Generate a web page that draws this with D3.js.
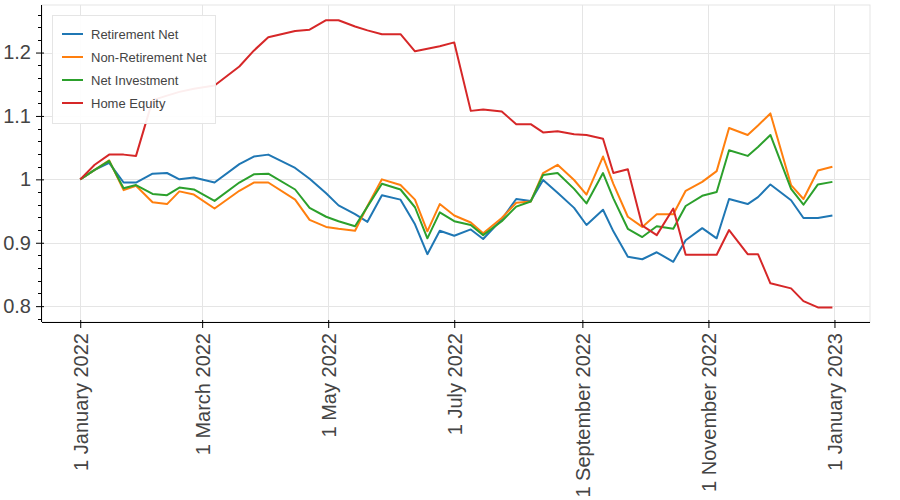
<!DOCTYPE html>
<html>
<head>
<meta charset="utf-8">
<script src="https://cdn.jsdelivr.net/npm/d3@7"></script>
<style>
  html, body { margin: 0; padding: 0; background: #fff; }
  svg { display: block; }
  text { font-family: "Liberation Sans", Arial, Helvetica, sans-serif; }
</style>
</head>
<body>
<svg id="chart" width="900" height="500"></svg>
<script>
const dates = ["2022-01-01","2022-01-08","2022-01-15","2022-01-22","2022-01-28","2022-02-05","2022-02-12","2022-02-18","2022-02-25","2022-03-07","2022-03-19","2022-03-26","2022-04-02","2022-04-15","2022-04-22","2022-04-30","2022-05-06","2022-05-14","2022-05-20","2022-05-27","2022-06-05","2022-06-12","2022-06-18","2022-06-24","2022-07-01","2022-07-09","2022-07-15","2022-07-24","2022-07-31","2022-08-07","2022-08-13","2022-08-20","2022-08-28","2022-09-03","2022-09-11","2022-09-16","2022-09-23","2022-09-30","2022-10-07","2022-10-15","2022-10-21","2022-10-29","2022-11-05","2022-11-11","2022-11-20","2022-11-25","2022-12-01","2022-12-11","2022-12-17","2022-12-24","2022-12-31"];
const retirementNet = [1.000,1.015,1.026,0.995,0.995,1.009,1.010,1.000,1.003,0.995,1.024,1.036,1.039,1.018,1.001,0.978,0.959,0.945,0.933,0.975,0.968,0.929,0.882,0.919,0.911,0.921,0.906,0.937,0.969,0.966,0.999,0.979,0.955,0.928,0.952,0.918,0.878,0.874,0.885,0.870,0.904,0.923,0.907,0.969,0.961,0.972,0.992,0.967,0.939,0.939,0.943];
const nonRetirementNet = [1.000,1.015,1.030,0.983,0.990,0.964,0.961,0.981,0.976,0.954,0.982,0.995,0.995,0.968,0.936,0.925,0.922,0.919,0.958,1.000,0.991,0.968,0.918,0.961,0.943,0.932,0.915,0.939,0.963,0.965,1.010,1.023,0.999,0.976,1.036,0.993,0.941,0.925,0.945,0.945,0.982,0.996,1.013,1.081,1.070,1.085,1.104,0.991,0.969,1.014,1.020];
const netInvestment = [1.000,1.015,1.029,0.986,0.991,0.977,0.975,0.987,0.984,0.966,0.995,1.008,1.009,0.984,0.955,0.941,0.934,0.926,0.957,0.993,0.984,0.956,0.907,0.948,0.934,0.928,0.912,0.934,0.957,0.965,1.007,1.010,0.985,0.962,1.010,0.970,0.922,0.909,0.926,0.922,0.958,0.974,0.980,1.046,1.037,1.051,1.070,0.985,0.960,0.992,0.996];
const homeEquity = [1.000,1.023,1.039,1.039,1.037,1.125,1.132,1.138,1.143,1.148,1.178,1.203,1.224,1.234,1.236,1.251,1.251,1.241,1.235,1.229,1.229,1.202,1.206,1.210,1.216,1.108,1.110,1.107,1.087,1.087,1.074,1.076,1.071,1.070,1.064,1.010,1.016,0.927,0.912,0.954,0.881,0.881,0.881,0.920,0.882,0.882,0.836,0.828,0.808,0.798,0.798];

const seriesNames = ["Retirement Net","Non-Retirement Net","Net Investment","Home Equity"];
const seriesColors = ["#1f77b4","#ff7f0e","#2ca02c","#d62728"];
const seriesValues = [retirementNet, nonRetirementNet, netInvestment, homeEquity];

const xTickDates = ["2022-01-01","2022-03-01","2022-05-01","2022-07-01","2022-09-01","2022-11-01","2023-01-01"];
const xTickLabels = ["1 January 2022","1 March 2022","1 May 2022","1 July 2022","1 September 2022","1 November 2022","1 January 2023"];
const yTicks = [0.8, 0.9, 1.0, 1.1, 1.2];

(function () {
const svg = d3.select("#chart");
const pLeft = 42, pRight = 870, pTop = 5, pBottom = 322;
const DAY = 86400000;
const parse = s => new Date(s + "T00:00:00Z");
const t0 = parse("2022-01-01").getTime();

const x = d3.scaleUtc()
  .domain([new Date(t0 - 18.5 * DAY), new Date(t0 + 382.2 * DAY)])
  .range([pLeft, pRight]);
const y = d3.scaleLinear().domain([0.775, 1.275]).range([pBottom, pTop]);

const textColor = "#444444";
const gridColor = "#e5e5e5";

// outline
svg.append("rect").attr("x", pLeft).attr("y", pTop)
  .attr("width", pRight - pLeft).attr("height", pBottom - pTop)
  .attr("fill", "none").attr("stroke", gridColor).attr("stroke-width", 1);

// grid
const grid = svg.append("g");
grid.selectAll("line.gy").data(yTicks).join("line")
  .attr("x1", pLeft).attr("x2", pRight)
  .attr("y1", d => Math.round(y(d)) + 0.5).attr("y2", d => Math.round(y(d)) + 0.5)
  .attr("stroke", gridColor).attr("stroke-width", 1);
grid.selectAll("line.gx").data(xTickDates).join("line")
  .attr("y1", pTop).attr("y2", pBottom)
  .attr("x1", d => Math.round(x(parse(d))) + 0.5).attr("x2", d => Math.round(x(parse(d))) + 0.5)
  .attr("stroke", gridColor).attr("stroke-width", 1);

// lines
const line = d3.line()
  .x((d, i) => x(parse(dates[i])))
  .y(d => y(d));
seriesValues.forEach((vals, k) => {
  svg.append("path").datum(vals)
    .attr("d", line)
    .attr("fill", "none")
    .attr("stroke", seriesColors[k])
    .attr("stroke-width", 2)
    .attr("stroke-linejoin", "round");
});

// x axis
const xAxis = d3.axisBottom(x)
  .tickValues(xTickDates.map(parse))
  .tickFormat((d, i) => xTickLabels[i])
  .tickSizeInner(6).tickSizeOuter(0).tickPadding(5);
const gx = svg.append("g").attr("transform", `translate(0,${pBottom})`).call(xAxis);
gx.select(".domain").attr("stroke", "#000").attr("d", `M${pLeft},0.5H${pRight}`);
gx.selectAll(".tick line").attr("stroke", "#000").attr("y1", -2).attr("y2", 6);
gx.selectAll(".tick text")
  .attr("fill", textColor)
  .style("font-size", "20px")
  .attr("text-anchor", "end")
  .attr("transform", "rotate(-90)")
  .attr("x", -11).attr("y", 0).attr("dy", "0.35em");

// y axis
const yAxis = d3.axisLeft(y)
  .tickValues(yTicks)
  .tickFormat(d3.format("~g"))
  .tickSizeInner(6).tickSizeOuter(0).tickPadding(5);
const gy = svg.append("g").attr("transform", `translate(${pLeft},0)`).call(yAxis);
gy.select(".domain").attr("stroke", "#000").attr("d", `M-0.5,${pTop}V${pBottom}`);
gy.selectAll(".tick line").attr("stroke", "#000").attr("x1", 2).attr("x2", -6);
gy.selectAll(".tick text").attr("fill", textColor).style("font-size", "20px");
// minor ticks
const minor = d3.range(0.78, 1.275, 0.02).filter(v => !yTicks.some(t => Math.abs(t - v) < 1e-6));
gy.selectAll("line.minor").data(minor).join("line")
  .attr("class", "minor")
  .attr("x1", 0).attr("x2", -4)
  .attr("y1", d => Math.round(y(d)) + 0.5).attr("y2", d => Math.round(y(d)) + 0.5)
  .attr("stroke", "#000");

// legend
const lg = svg.append("g");
lg.append("rect").attr("x", 52.5).attr("y", 15.5).attr("width", 163).attr("height", 108)
  .attr("fill", "#fff").attr("fill-opacity", 0.92)
  .attr("stroke", gridColor).attr("stroke-width", 1);
seriesNames.forEach((name, k) => {
  const yy = 34 + k * 23;
  lg.append("line").attr("x1", 62).attr("x2", 83).attr("y1", yy).attr("y2", yy)
    .attr("stroke", seriesColors[k]).attr("stroke-width", 2);
  lg.append("text").attr("x", 91).attr("y", yy).attr("dy", "0.35em")
    .attr("fill", textColor).style("font-size", "13px").text(name);
});
})();
</script>
</body>
</html>
